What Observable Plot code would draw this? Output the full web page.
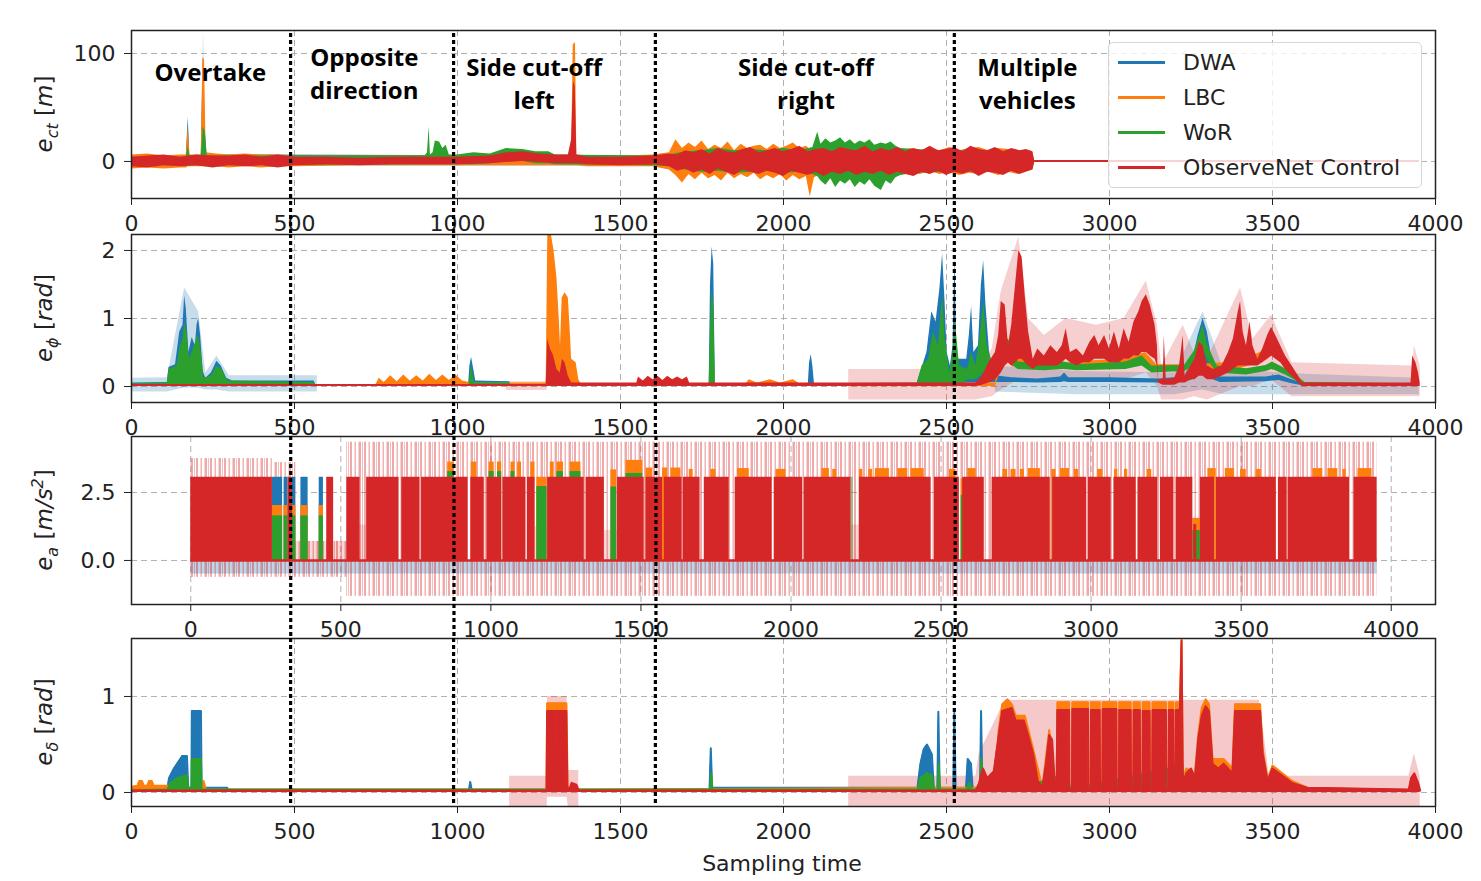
<!DOCTYPE html>
<html><head><meta charset="utf-8">
<script src="https://cdn.jsdelivr.net/npm/d3@7"></script>
<script src="https://cdn.jsdelivr.net/npm/@observablehq/plot@0.6"></script>
<style>
body{margin:0;background:#fff;}
#wrap{position:relative;width:1481px;height:881px;overflow:hidden;background:#fff;font-family:"DejaVu Sans";}
#wrap svg{position:absolute;left:0;}
.legend{position:absolute;left:1108px;top:42px;width:314px;height:146px;box-sizing:border-box;border:1px solid #d6d6d6;border-radius:5px;background:rgba(255,255,255,0.8);}
.legend .item{position:absolute;left:9px;height:26px;display:flex;align-items:center;font-family:"DejaVu Sans";font-size:22px;color:#222;white-space:nowrap;}
.legend .sw{display:inline-block;width:47px;height:3px;margin-right:18px;}
.xlab{position:absolute;left:582px;width:400px;top:851px;text-align:center;font-family:"DejaVu Sans";font-size:22px;color:#222;line-height:26px;}
</style></head>
<body><div id="wrap"></div>
<svg width="0" height="0" style="position:absolute">
  <defs>
    <pattern id="pinkStripes" width="14" height="10" patternUnits="userSpaceOnUse">
      <rect x="0" y="0" width="2" height="10" fill="#d62728" fill-opacity="0.4"/>
      <rect x="4.5" y="0" width="1.5" height="10" fill="#d62728" fill-opacity="0.35"/>
      <rect x="8.5" y="0" width="2.5" height="10" fill="#d62728" fill-opacity="0.4"/>
      <rect x="12" y="0" width="1" height="10" fill="#d62728" fill-opacity="0.3"/>
    </pattern>
  </defs>
</svg>
<script>
// ---------- series / legend ----------
const seriesNames = ["DWA", "LBC", "WoR", "ObserveNet Control"];
const seriesColors = ["#1f77b4", "#ff7f0e", "#2ca02c", "#d62728"];
const xTicks = [0, 500, 1000, 1500, 2000, 2500, 3000, 3500, 4000];

// scenario boundaries (sampling time, main scale and panel-3 scale)
const boundaries = [488, 988, 1607, 2524];
const boundariesEa = [333, 877, 1550, 2547];
const scenarioLabels = ["Overtake", "Opposite\ndirection", "Side cut-off\nleft", "Side cut-off\nright", "Multiple\nvehicles"];
const scenarioX = [242, 714, 1235, 2069, 2748];
const scenarioY = [84, 83, 74, 74, 74];

// ---------- panel 1: e_ct [m]  ([x, low, high] envelopes) ----------
const ect_dwa = [[0,-4,4],[168,-4,4],[174,-4,41],[179,-4,5],[214,-4,5],[220,-4,96],[226,-4,30],[232,-4,6],[2765,-4,4],[2770,-1,1],[3950,-1,1]];
const ect_dwa_band = [[214,0,0],[221,0,121],[228,0,0]];
const ect_lbc = [[0,-7,6],[50,-6,7],[100,-7,5],[150,-6,6],[168,-6,6],[174,-5,32],[179,-5,6],[214,-5,6],[219,-5,96],[224,-5,94],[229,-5,8],[260,-5,7],[300,-6,6],[350,-5,7],[400,-6,6],[450,-5,6],[500,-5,5],[700,-4,5],[1000,-4,5],[1300,-4,5],[1350,-4,6],[1355,-4,108],[1362,-4,110],[1366,-4,6],[1400,-5,5],[1500,-5,5],[1600,-5,6],[1650,-8,8],[1670,-13,20],[1690,-20,12],[1710,-12,17],[1730,-17,13],[1750,-11,19],[1770,-16,11],[1790,-13,15],[1810,-18,12],[1830,-11,18],[1850,-16,10],[1870,-12,16],[1890,-15,12],[1910,-11,14],[1930,-17,15],[1950,-13,11],[1970,-16,16],[1990,-12,12],[2010,-18,14],[2030,-13,17],[2050,-17,12],[2070,-14,14],[2082,-33,11],[2095,-15,13],[2115,-12,12],[2135,-16,10],[2160,-11,12],[2185,-13,10],[2210,-10,12],[2240,-13,10],[2270,-9,11],[2300,-12,9],[2330,-10,12],[2360,-13,9],[2390,-10,12],[2420,-12,10],[2450,-9,12],[2480,-12,10],[2510,-10,13],[2540,-13,10],[2570,-11,12],[2600,-12,13],[2630,-10,10],[2660,-13,12],[2690,-10,11],[2720,-12,9],[2745,-9,10],[2765,-8,8],[2770,-1,1],[3950,-1,1]];
const ect_wor = [[0,-4,4],[168,-4,4],[174,-4,14],[179,-4,5],[214,-4,5],[220,-4,32],[226,-4,28],[232,-4,5],[900,-3,5],[908,-3,8],[913,-3,32],[917,-3,6],[925,-3,8],[932,-3,19],[945,-3,18],[955,-3,12],[965,-3,15],[975,-3,6],[1000,-3,6],[1050,-3,8],[1100,-2,7],[1150,0,12],[1200,0,11],[1240,-2,9],[1280,-2,9],[1300,-3,6],[1600,-4,5],[1650,-5,6],[1700,-8,9],[1750,-10,10],[1800,-9,12],[1850,-11,10],[1900,-10,11],[1950,-9,10],[2000,-11,12],[2050,-10,10],[2090,-12,13],[2105,-14,27],[2115,-18,16],[2130,-22,21],[2145,-16,17],[2160,-24,19],[2175,-18,22],[2190,-21,17],[2205,-17,20],[2220,-24,16],[2235,-19,19],[2250,-22,17],[2265,-17,20],[2280,-23,15],[2300,-27,17],[2315,-18,16],[2330,-21,18],[2345,-15,14],[2360,-13,12],[2400,-11,11],[2500,-10,10],[2600,-10,10],[2700,-9,9],[2765,-7,7],[2770,-1,1],[3950,-1,1]];
const ect_obs = [[0,-5,4],[50,-6,5],[100,-4,6],[150,-5,4],[200,-4,6],[250,-6,5],[300,-4,5],[350,-5,6],[400,-4,4],[450,-6,6],[500,-4,4],[600,-3,4],[700,-4,3],[800,-3,4],[900,-3,4],[1000,-3,4],[1100,-2,5],[1150,-1,8],[1200,0,9],[1250,-1,7],[1300,-2,6],[1340,-2,6],[1350,-2,20],[1356,-2,74],[1361,-2,70],[1366,-2,6],[1400,-3,4],[1500,-4,4],[1600,-3,5],[1650,-5,7],[1675,-9,6],[1700,-7,10],[1725,-11,8],[1750,-8,11],[1775,-12,7],[1800,-7,12],[1825,-10,9],[1850,-13,8],[1875,-8,11],[1900,-10,13],[1925,-12,8],[1950,-9,10],[1975,-11,12],[2000,-14,9],[2025,-9,11],[2050,-11,14],[2075,-13,9],[2100,-10,11],[2125,-14,12],[2150,-10,9],[2175,-12,13],[2200,-9,11],[2225,-13,10],[2250,-10,14],[2275,-12,9],[2300,-9,12],[2325,-13,10],[2350,-10,13],[2375,-12,9],[2400,-14,12],[2425,-10,10],[2450,-12,14],[2475,-9,10],[2500,-13,11],[2525,-10,13],[2550,-12,9],[2575,-9,14],[2600,-14,11],[2625,-10,10],[2650,-11,13],[2675,-13,9],[2700,-9,12],[2725,-12,10],[2745,-10,11],[2765,-8,9],[2770,-1,1],[3950,-1,1]];

// ---------- panel 2: e_phi [rad]  ([x, low, high]) ----------
const phi_dwa = [[0,0,0.05],[110,0,0.06],[115,0,0.28],[135,0,0.32],[148,0,0.8],[158,0,0.9],[163,0,1.33],[168,0,1.15],[176,0,0.5],[186,0,0.72],[196,0,0.6],[201,0,0.9],[206,0,1.0],[212,0,0.75],[220,0,0.22],[228,0,0.12],[245,0,0.2],[262,0,0.37],[275,0,0.3],[292,0,0.12],[310,0.02,0.08],[560,0.02,0.08],[566,0,0.02],[1034,0,0.02],[1038,0,0.3],[1043,0,0.43],[1048,0,0.3],[1056,0,0.08],[1160,0,0.07],[1165,0,0.02],[1772,0,0.02],[1776,0,1.5],[1781,0,2.05],[1786,0,1.8],[1791,0,0.03],[2076,0,0.03],[2080,0,0.35],[2085,0,0.47],[2090,0,0.3],[2095,0,0.04],[2410,0,0.05],[2420,0,0.2],[2440,0,0.5],[2455,0,1.1],[2468,0,0.95],[2480,0,1.45],[2488,0,1.95],[2495,0,1.3],[2502,0,0.5],[2512,0,0.3],[2520,0,0.6],[2526,0,1.9],[2532,0,0.4],[2562,0.05,0.4],[2570,0.05,0.75],[2577,0.05,1.18],[2584,0.05,0.5],[2598,0.05,0.6],[2607,0.05,1.5],[2614,0.05,1.85],[2621,0.05,1.2],[2632,0.05,0.5],[2650,0.06,0.16],[2700,0.06,0.13],[2780,0.05,0.11],[2850,0.06,0.14],[2862,0.07,0.2],[2875,0.06,0.13],[3000,0.06,0.13],[3150,0.05,0.11],[3230,0.06,0.14],[3255,0.1,0.38],[3272,0.25,0.75],[3287,0.4,1.0],[3300,0.3,0.8],[3318,0.1,0.3],[3340,0.06,0.14],[3480,0.07,0.14],[3520,0.09,0.17],[3560,0.04,0.1],[3592,0.01,0.05],[3950,0.01,0.04]];
const phi_dwa_band = [[0,-0.08,0.12],[110,-0.08,0.13],[163,-0.02,1.45],[206,-0.02,1.1],[228,-0.05,0.2],[262,-0.05,0.45],[300,-0.08,0.16],[570,-0.08,0.16],[571,null,null],[2650,-0.08,0.3],[2900,-0.12,0.22],[3200,-0.12,0.2],[3287,-0.05,1.1],[3350,-0.12,0.25],[3600,-0.12,0.18],[3950,-0.12,0.12]];
const phi_lbc = [[0,0,0.03],[220,0,0.03],[230,0,0.07],[240,0,0.03],[750,0,0.03],[760,0,0.12],[775,0,0.06],[795,0,0.16],[815,0,0.07],[835,0,0.17],[855,0,0.08],[875,0,0.16],[895,0,0.08],[915,0,0.18],[935,0,0.09],[955,0,0.17],[975,0,0.09],[995,0,0.17],[1015,0,0.08],[1046,0,0.05],[1272,0,0.05],[1277,0,2.235],[1288,0,2.235],[1296,0,2.0],[1305,0,1.6],[1312,0,1.0],[1316,0,0.6],[1321,0,1.3],[1330,0,1.38],[1340,0,1.3],[1346,0,0.8],[1350,0,0.4],[1364,0,0.35],[1372,0,0.1],[1379,0,0.04],[1885,0,0.04],[1895,0,0.1],[1920,0,0.05],[1960,0,0.1],[1990,0,0.05],[2030,0,0.1],[2050,0,0.04],[2650,0,0.05],[2668,0.25,0.55],[2690,0.35,0.62],[2705,0.28,0.42],[2722,0.35,0.9],[2745,0.28,0.48],[2766,0.25,0.36],[2850,0.25,0.34],[2950,0.27,0.38],[3050,0.3,0.4],[3110,0.35,0.5],[3145,0.24,0.32],[3250,0.24,0.32],[3400,0.26,0.36],[3470,0.36,0.52],[3500,0.45,0.6],[3530,0.35,0.48],[3570,0.12,0.2],[3600,0,0.05],[3950,0,0.03]];
const phi_wor = [[0,0,0.04],[110,0,0.05],[115,0,0.25],[140,0,0.3],[150,0,0.6],[158,0,0.7],[163,0,0.94],[170,0,0.8],[178,0,0.4],[190,0,0.55],[200,0,0.7],[206,0,0.75],[214,0,0.5],[222,0,0.12],[245,0,0.15],[262,0,0.3],[278,0,0.25],[295,0,0.08],[560,0.02,0.06],[565,0,0.03],[1035,0,0.03],[1043,0,0.3],[1052,0,0.05],[1160,0,0.05],[1165,0,0.02],[1772,0,0.03],[1777,0,1.0],[1781,0,1.4],[1786,0,1.2],[1791,0,0.03],[2410,0,0.04],[2425,0,0.3],[2445,0,0.4],[2460,0,0.8],[2475,0,0.6],[2488,0,1.35],[2496,0,0.7],[2510,0,0.2],[2520,0,0.5],[2527,0,0.97],[2540,0,0.3],[2565,0.1,0.25],[2577,0.1,0.5],[2590,0.1,0.3],[2605,0.15,0.8],[2614,0.2,1.25],[2625,0.2,0.6],[2640,0.2,0.35],[2660,0.3,0.62],[2690,0.35,0.7],[2720,0.25,0.36],[2800,0.23,0.33],[2860,0.25,0.36],[2900,0.23,0.32],[3050,0.25,0.36],[3100,0.3,0.45],[3130,0.2,0.3],[3230,0.22,0.31],[3260,0.3,0.52],[3287,0.55,0.9],[3300,0.4,0.62],[3330,0.2,0.3],[3420,0.17,0.26],[3480,0.22,0.31],[3500,0.25,0.36],[3540,0.17,0.26],[3600,0.01,0.06],[3950,0.01,0.04]];
const phi_obs = [[0,0,0.03],[1272,0,0.03],[1277,0,0.7],[1285,0,0.55],[1295,0,0.45],[1305,0,0.25],[1315,0,0.2],[1322,0,0.4],[1330,0,0.35],[1340,0,0.15],[1350,0,0.05],[1550,0,0.05],[1555,0,0.14],[1570,0,0.08],[1585,0,0.15],[1600,0,0.1],[1615,0,0.15],[1630,0,0.09],[1645,0,0.15],[1660,0,0.1],[1675,0,0.14],[1690,0,0.1],[1705,0,0.14],[1712,0,0.05],[2590,0,0.05],[2610,0.02,0.15],[2630,0.05,0.35],[2650,0.1,0.5],[2660,0.15,0.75],[2668,0.2,1.25],[2680,0.3,1.2],[2690,0.35,0.6],[2700,0.3,0.9],[2712,0.35,1.5],[2722,0.4,2.0],[2732,0.4,1.9],[2742,0.35,1.3],[2752,0.3,0.8],[2766,0.25,0.4],[2780,0.3,0.55],[2800,0.3,0.45],[2820,0.3,0.6],[2840,0.3,0.5],[2855,0.35,0.6],[2867,0.4,0.85],[2880,0.35,0.5],[2900,0.3,0.55],[2920,0.35,0.45],[2940,0.35,0.65],[2955,0.4,0.75],[2968,0.4,0.6],[2985,0.4,0.75],[3000,0.35,0.55],[3015,0.35,0.8],[3030,0.35,0.55],[3045,0.4,0.85],[3060,0.4,0.65],[3075,0.45,0.95],[3090,0.45,1.1],[3100,0.5,1.25],[3113,0.5,1.35],[3125,0.45,1.2],[3140,0.4,0.9],[3147,0.3,0.6],[3150,0.05,0.1],[3165,0.02,0.1],[3168,0.02,0.75],[3174,0.02,0.1],[3200,0.02,0.12],[3215,0.05,0.3],[3226,0.05,0.75],[3232,0.05,0.15],[3250,0.1,0.3],[3262,0.1,0.4],[3275,0.15,0.65],[3287,0.15,0.6],[3300,0.1,0.3],[3320,0.1,0.25],[3345,0.15,0.3],[3365,0.2,0.5],[3380,0.25,0.7],[3395,0.3,1.1],[3402,0.3,1.25],[3410,0.3,0.8],[3420,0.3,0.6],[3431,0.3,0.95],[3440,0.3,0.6],[3455,0.3,0.4],[3470,0.35,0.55],[3485,0.4,0.75],[3497,0.45,0.87],[3510,0.4,0.75],[3525,0.35,0.6],[3540,0.25,0.45],[3560,0.15,0.3],[3580,0.05,0.15],[3591,0,0.05],[3925,0,0.05],[3930,0,0.45],[3940,0,0.35],[3948,0,0.2],[3953,0,0.05]];
const phi_obs_band = [[1150,-0.06,0.07],[1275,-0.06,0.07],[1276,null,null],[2200,-0.2,0.25],[2590,-0.2,0.25],[2640,-0.15,0.55],[2668,-0.05,1.4],[2722,0.1,2.2],[2752,0.1,1.0],[2800,0.05,0.75],[2867,0.1,1.0],[2960,0.1,0.9],[3045,0.1,1.0],[3113,0.2,1.55],[3147,0.0,0.9],[3160,-0.2,0.3],[3226,-0.2,0.9],[3260,-0.15,0.5],[3300,-0.2,0.4],[3402,0,1.45],[3440,0,0.7],[3497,0.1,1.05],[3560,-0.15,0.35],[3930,-0.15,0.3],[3935,-0.15,0.6],[3953,-0.15,0.3]];

// ---------- panel 3: e_a [m/s^2]  (on-intervals [x1, x2] / [x1, x2, level]) ----------
const ea_obs_on = 3.06;
const ea_span = [0, 3953];
const ea_obs_blocks = [[0,272],[324,339],[453,476],[520,564],[586,694],[703,764],[769,924],[933,978],[987,1036],[1040,1117],[1122,1147],[1189,1311],[1317,1378],[1422,1511],[1517,1572],[1578,1637],[1641,1697],[1711,1794],[1814,1937],[1944,2039],[2044,2200],[2228,2467],[2478,2561],[2572,2644],[2670,2864],[2872,2985],[2991,3067],[3076,3150],[3156,3222],[3231,3276],[3283,3339],[3364,3411],[3417,3617],[3624,3653],[3656,3861],[3876,3953]];
const ea_obs_partial = [[3342,3352,1.32]];
const ea_mixed = [[272,306],[311,324],[339,350],[367,391],[428,442]];
const ea_dwa_mixed = 3.06, ea_lbc_mixed = 2.02, ea_wor_mixed = 1.64;
const ea_lbc_gaps = [[1153,1187,3.06],[1400,1419,3.33],[2567,2583,3.0],[3339,3364,1.55]];
const ea_wor_gaps = [[1153,1187,2.72],[1400,1419,2.7],[2567,2583,2.4],[3339,3364,1.1],[2203,2206,3.06]];
const ea_lbc_tops = [[856,878,3.62],[935,953,3.62],[994,1011,3.62],[1022,1036,3.62],[1067,1080,3.62],[1089,1102,3.62],[1133,1147,3.62],[1198,1211,3.62],[1220,1242,3.62],[1264,1300,3.62],[1450,1506,3.68],[1517,1539,3.4],[1572,1589,3.4],[1600,1633,3.4],[1661,1674,3.35],[1733,1750,3.35],[1822,1861,3.38],[1950,1983,3.35],[2103,2128,3.38],[2139,2152,3.35],[2228,2239,3.35],[2259,2272,3.35],[2281,2328,3.38],[2356,2389,3.38],[2400,2444,3.38],[2528,2550,3.35],[2589,2617,3.38],[2706,2722,3.35],[2733,2750,3.35],[2764,2778,3.35],[2791,2831,3.38],[2869,2883,3.35],[2898,2928,3.38],[2944,2958,3.35],[3022,3039,3.35],[3078,3089,3.35],[3111,3122,3.35],[3187,3202,3.35],[3389,3417,3.38],[3447,3478,3.38],[3498,3517,3.35],[3550,3567,3.35],[3739,3772,3.38],[3789,3822,3.38],[3839,3850,3.35],[3889,3936,3.38]];
const ea_wor_tops = [[856,878,3.27],[994,1011,3.27],[1022,1036,3.27],[1067,1080,3.27],[1220,1242,3.27],[1264,1300,3.27],[1450,1506,3.2]];
const ea_obs_band = [[0,272,-0.62,3.75],[272,350,-0.62,3.6],[350,520,-0.62,0.7],[520,3953,-1.32,4.35]];
const ea_obs_gapband = [[350,520,0,0.7],[520,586,0,1.3],[1147,1189,0,1.25],[1378,1422,0,1.1],[2200,2228,0,1.3],[3339,3364,0,1.3]];
const ea_dwa_band = [[0,3953,-0.5,0]];

// ---------- panel 4: e_delta [rad]  ([x, value]) ----------
const delta_dwa = [[0,0.02],[110,0.03],[115,0.15],[130,0.25],[140,0.3],[150,0.35],[155,0.38],[170,0.38],[174,0.05],[184,0.05],[185,0.85],[213,0.85],[215,0.05],[293,0.05],[300,0.02],[1035,0.02],[1039,0.11],[1044,0.02],[1773,0.02],[1777,0.46],[1781,0.05],[2411,0.05],[2420,0.3],[2430,0.45],[2440,0.5],[2455,0.4],[2461,0.05],[2472,0.05],[2475,0.84],[2479,0.05],[2521,0.05],[2524,0.83],[2528,0.05],[2560,0.05],[2565,0.35],[2575,0.3],[2580,0.05],[2603,0.05],[2606,0.85],[2610,0.05],[3950,0.02]];
const delta_lbc = [[0,0.06],[18,0.07],[24,0.12],[32,0.12],[38,0.07],[48,0.07],[54,0.12],[62,0.12],[68,0.07],[118,0.07],[125,0.03],[216,0.03],[221,0.12],[228,0.03],[1273,0.03],[1275,0.93],[1334,0.93],[1338,0.05],[1372,0.03],[2650,0.05],[2660,0.65],[2671,0.92],[2687,0.97],[2700,0.92],[2712,0.8],[2740,0.8],[2766,0.45],[2794,0.05],[2815,0.65],[2832,0.1],[2838,0.1],[2840,0.94],[2876,0.94],[2877,0.03],[2885,0.03],[2886,0.94],[2934,0.94],[2935,0.03],[2942,0.03],[2943,0.94],[2970,0.94],[2971,0.03],[2978,0.03],[2979,0.94],[3021,0.94],[3022,0.03],[3029,0.03],[3030,0.94],[3065,0.94],[3066,0.03],[3073,0.03],[3074,0.94],[3093,0.94],[3094,0.03],[3101,0.03],[3102,0.94],[3123,0.94],[3124,0.03],[3131,0.03],[3132,0.94],[3173,0.94],[3174,0.03],[3181,0.03],[3182,0.94],[3196,0.94],[3197,0.03],[3203,0.03],[3204,0.94],[3216,0.94],[3221,1.604],[3225,0.15],[3236,0.25],[3262,0.2],[3272,0.6],[3283,0.88],[3295,0.97],[3305,0.92],[3316,0.35],[3350,0.35],[3377,0.25],[3385,0.92],[3462,0.92],[3470,0.45],[3485,0.14],[3500,0.28],[3560,0.12],[3607,0.05],[3950,0.02]];
const delta_wor = [[0,0.02],[110,0.03],[120,0.1],[140,0.15],[170,0.18],[174,0.05],[184,0.05],[185,0.35],[213,0.35],[215,0.03],[1305,0.03],[1308,0.2],[1320,0.18],[1325,0.03],[1775,0.03],[1778,0.2],[1782,0.03],[2411,0.03],[2420,0.15],[2440,0.2],[2455,0.18],[2461,0.03],[2473,0.03],[2476,0.3],[2480,0.03],[2560,0.03],[2570,0.1],[2578,0.03],[2603,0.03],[2607,0.35],[2612,0.03],[2680,0.15],[2700,0.2],[2720,0.03],[2870,0.2],[2880,0.03],[3180,0.25],[3221,0.35],[3230,0.05],[3280,0.15],[3300,0.03],[3950,0.02]];
const delta_obs = [[0,0.02],[1273,0.02],[1275,0.85],[1303,0.85],[1304,0.05],[1306,0.85],[1334,0.85],[1337,0.05],[1345,0.05],[1350,0.1],[1365,0.08],[1372,0.02],[2590,0.02],[2600,0.1],[2612,0.25],[2625,0.15],[2645,0.22],[2660,0.6],[2671,0.85],[2700,0.88],[2712,0.75],[2737,0.75],[2750,0.6],[2766,0.4],[2780,0.12],[2794,0.05],[2805,0.3],[2815,0.6],[2824,0.55],[2832,0.1],[2838,0.1],[2840,0.86],[2876,0.86],[2877,0.03],[2885,0.03],[2886,0.87],[2934,0.87],[2935,0.03],[2942,0.03],[2943,0.86],[2970,0.86],[2971,0.03],[2978,0.03],[2979,0.87],[3021,0.87],[3022,0.03],[3029,0.03],[3030,0.86],[3065,0.86],[3066,0.03],[3073,0.03],[3074,0.86],[3093,0.86],[3094,0.03],[3101,0.03],[3102,0.85],[3123,0.85],[3124,0.03],[3131,0.03],[3132,0.86],[3173,0.86],[3174,0.03],[3181,0.03],[3182,0.86],[3196,0.86],[3197,0.03],[3203,0.03],[3204,0.86],[3216,0.86],[3221,1.58],[3225,0.1],[3236,0.2],[3250,0.25],[3262,0.15],[3272,0.55],[3283,0.8],[3295,0.9],[3305,0.85],[3316,0.3],[3334,0.25],[3350,0.3],[3377,0.2],[3385,0.85],[3462,0.85],[3470,0.4],[3485,0.12],[3500,0.25],[3520,0.2],[3560,0.1],[3607,0.05],[3918,0.03],[3925,0.15],[3935,0.2],[3947,0.1],[3953,0.02]];
const delta_obs_band = [[1160,-0.15,0.17],[1275,-0.15,0.17],[1276,-0.05,1.0],[1336,-0.05,1.0],[1340,-0.15,0.23],[1372,-0.15,0.23],[1373,null,null],[2200,-0.15,0.17],[2590,-0.15,0.17],[2600,-0.15,0.4],[2680,-0.15,0.96],[3218,-0.15,0.96],[3221,-0.15,1.604],[3226,-0.15,0.96],[3460,-0.15,0.96],[3480,-0.15,0.45],[3490,-0.15,0.17],[3918,-0.15,0.17],[3935,-0.15,0.4],[3953,-0.15,0.17]];

// ---------- helpers ----------
const [C_DWA, C_LBC, C_WOR, C_OBS] = seriesColors;
const GRID = {stroke: "#b0b0b0", strokeOpacity: 1, strokeDasharray: "6,4", strokeWidth: 1};
const env = (data, color, op = 1) => Plot.areaY(data, {x: d => d[0], y1: d => d[1], y2: d => d[2], fill: color, fillOpacity: op, clip: true});
const filled = (data, color) => [
  Plot.areaY(data, {x: d => d[0], y: d => d[1], fill: color, clip: true}),
  Plot.line(data, {x: d => d[0], y: d => d[1], stroke: color, strokeWidth: 2, clip: true})
];
const rects = (data, color, level, op = 1) => Plot.rect(data, {
  x1: d => d[0], x2: d => d[1],
  y1: d => (d.length > 3 ? d[2] : 0),
  y2: d => (d.length > 3 ? d[3] : (d.length > 2 ? d[2] : level)),
  fill: color, fillOpacity: op, clip: true
});

const wrap = document.getElementById("wrap");
function panel({top, mb, xDomain, yDomain, yTicks, yFormat, rules, insetTop, insetBottom, marks}) {
  const svg = Plot.plot({
    width: 1481, height: 30 + 168 + mb,
    marginTop: 30, marginBottom: mb, marginLeft: 131, marginRight: 46,
    x: {domain: xDomain}, y: {domain: yDomain},
    style: {fontFamily: "DejaVu Sans", fontSize: "22px", background: "transparent", overflow: "visible", color: "#222"},
    marks: [
      Plot.gridX({ticks: xTicks, ...GRID}),
      Plot.gridY({ticks: yTicks, ...GRID}),
      ...marks,
      Plot.frame({stroke: "#222", strokeWidth: 1.5}),
      Plot.axisX({ticks: xTicks, tickFormat: d => String(d), tickSize: 7, tickPadding: 10, label: null}),
      Plot.axisY({ticks: yTicks, tickFormat: yFormat, tickSize: 7, tickPadding: 9, label: null}),
      Plot.ruleX(rules, {stroke: "#000", strokeWidth: 3.2, strokeDasharray: "4,3", insetTop, insetBottom})
    ]
  });
  svg.style.top = top + "px";
  wrap.appendChild(svg);
  return svg;
}
function yLabel(svg, parts) {
  const t = d3.select(svg).append("text")
    .attr("transform", "translate(52,114) rotate(-90)")
    .attr("text-anchor", "middle").attr("font-family", "DejaVu Sans")
    .attr("font-size", 23).attr("fill", "#222");
  let shift = 0;
  for (const [s, kind] of parts) {
    const target = kind === "sub" ? 6 : kind === "sup" ? -9 : 0;
    const ts = t.append("tspan").text(s).attr("dy", target - shift);
    shift = target;
    if (kind !== "n") ts.attr("font-style", "italic");
    if (kind === "sub" || kind === "sup") ts.attr("font-size", 16);
  }
}

// ---------- panel 1 ----------
const p1 = panel({
  top: 0, mb: 40, xDomain: [0, 4000], yDomain: [-34.3, 121.3], yTicks: [0, 100], yFormat: d => String(d),
  rules: boundaries, insetTop: 3, insetBottom: -36,
  marks: [
    env(ect_dwa_band, C_DWA, 0.3),
    env(ect_dwa, C_DWA), env(ect_lbc, C_LBC), env(ect_wor, C_WOR), env(ect_obs, C_OBS),
    Plot.text(scenarioLabels, {x: (d, i) => scenarioX[i], y: (d, i) => scenarioY[i], text: d => d,
      fontFamily: "Open Sans", fontWeight: "bold", fontSize: 24, lineHeight: 1.38, fill: "#000"})
  ]
});
yLabel(p1, [["e", "i"], ["ct", "sub"], [" [", "n"], ["m", "i"], ["]", "n"]]);

// ---------- panel 2 ----------
const p2 = panel({
  top: 204, mb: 40, xDomain: [0, 4000], yDomain: [-0.235, 2.235], yTicks: [0, 1, 2], yFormat: d => String(d),
  rules: boundaries, insetTop: 0, insetBottom: -34,
  marks: [
    env(phi_dwa_band, C_DWA, 0.25), env(phi_obs_band, C_OBS, 0.22),
    env(phi_dwa, C_DWA), env(phi_lbc, C_LBC), env(phi_wor, C_WOR), env(phi_obs, C_OBS)
  ]
});
yLabel(p2, [["e", "i"], ["ϕ", "sub"], [" [", "n"], ["rad", "i"], ["]", "n"]]);

// ---------- panel 3 ----------
const p3 = panel({
  top: 406, mb: 40, xDomain: [-197.5, 4147.5], yDomain: [-1.62, 4.56], yTicks: [0, 2.5], yFormat: d3.format(".1f"),
  rules: boundariesEa, insetTop: 0, insetBottom: -34,
  marks: [
    rects(ea_dwa_band, C_DWA, 0, 0.3),
    rects(ea_obs_band, "url(#pinkStripes)", 0, 1),
    rects(ea_obs_gapband, C_OBS, 0, 0.18),
    rects(ea_mixed, C_DWA, ea_dwa_mixed),
    rects(ea_mixed, C_LBC, ea_lbc_mixed),
    rects(ea_lbc_gaps, C_LBC), rects(ea_lbc_tops, C_LBC),
    rects(ea_mixed, C_WOR, ea_wor_mixed),
    rects(ea_wor_gaps, C_WOR), rects(ea_wor_tops, C_WOR),
    rects(ea_obs_blocks, C_OBS, ea_obs_on),
    rects(ea_obs_partial, C_OBS),
    Plot.ruleY([0], {x1: ea_span[0], x2: ea_span[1], stroke: C_OBS, strokeWidth: 2.5})
  ]
});
yLabel(p3, [["e", "i"], ["a", "sub"], [" [", "n"], ["m/s", "i"], ["2", "sup"], ["]", "n"]]);

// ---------- panel 4 ----------
const p4 = panel({
  top: 608, mb: 75, xDomain: [0, 4000], yDomain: [-0.146, 1.604], yTicks: [0, 1], yFormat: d => String(d),
  rules: boundaries, insetTop: 0, insetBottom: 3,
  marks: [
    env(delta_obs_band, C_OBS, 0.25),
    ...filled(delta_dwa, C_DWA), ...filled(delta_lbc, C_LBC), ...filled(delta_wor, C_WOR), ...filled(delta_obs, C_OBS)
  ]
});
yLabel(p4, [["e", "i"], ["δ", "sub"], [" [", "n"], ["rad", "i"], ["]", "n"]]);

// ---------- x label & legend ----------
const xl = document.createElement("div");
xl.className = "xlab"; xl.textContent = "Sampling time";
wrap.appendChild(xl);

const lg = document.createElement("div");
lg.className = "legend";
seriesNames.forEach((name, i) => {
  const it = document.createElement("div");
  it.className = "item";
  it.style.top = (6 + 35 * i) + "px";
  const sw = document.createElement("span");
  sw.className = "sw"; sw.style.background = seriesColors[i];
  const tx = document.createElement("span"); tx.textContent = name;
  it.appendChild(sw); it.appendChild(tx);
  lg.appendChild(it);
});
wrap.appendChild(lg);
</script></body></html>
